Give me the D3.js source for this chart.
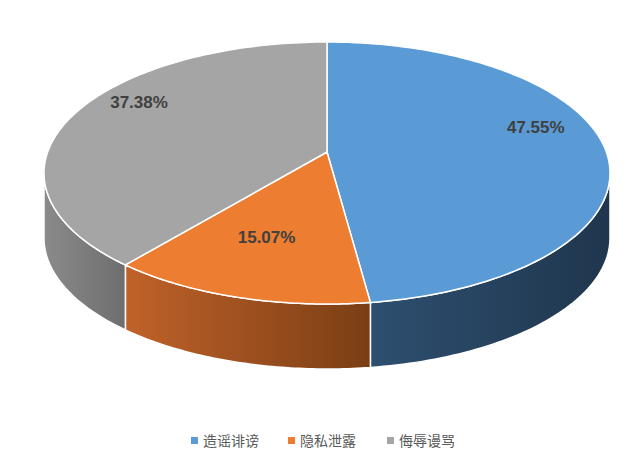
<!DOCTYPE html>
<html><head><meta charset="utf-8">
<script src="https://cdn.jsdelivr.net/npm/d3@7"></script>
<style>body{margin:0;background:#fff}</style>
</head><body>
<svg id="c" width="643" height="455"></svg>
<script>
var categories = ["造谣诽谤", "隐私泄露", "侮辱谩骂"]
var values = [47.55, 15.07, 37.38]
var labels = ["47.55%", "15.07%", "37.38%"]
var topColors = ["#5B9BD5", "#ED7D31", "#A5A5A5"]
var sideColors = [["#2E4F70", "#1F364D"], ["#C0622A", "#7A3E14"], ["#8A8A8A", "#6E6E6E"]]

var cx = 327, cy = 173, rx = 283, ry = 131, depth = 65, vy = 152
var svg = d3.select("#c")
var defs = svg.append("defs")
sideColors.forEach(function (c, i) {
    var g = defs.append("linearGradient").attr("id", "g" + i).attr("x1", 0).attr("x2", 1)
    g.append("stop").attr("offset", 0).attr("stop-color", c[0])
    g.append("stop").attr("offset", 1).attr("stop-color", c[1])
})

var pie = d3.pie().sort(null)(values)
function pt(a, dy) { return [cx + rx * Math.sin(a), cy - ry * Math.cos(a) + (dy || 0)] }

// side walls
pie.forEach(function (d, i) {
    var a0 = Math.max(d.startAngle, Math.PI / 2), a1 = Math.min(d.endAngle, 3 * Math.PI / 2)
    if (a1 <= a0) return
    var n = 60, top = [], bot = []
    for (var k = 0; k <= n; k++) {
        var a = a0 + (a1 - a0) * k / n
        top.push(pt(a)); bot.push(pt(a, depth))
    }
    var p = top.concat(bot.reverse())
    svg.append("path").attr("d", d3.line()(p) + "Z")
        .attr("fill", "url(#g" + i + ")").attr("stroke", "#fff").attr("stroke-width", 1.5)
})

// top faces
pie.forEach(function (d, i) {
    var n = 120, p = [[cx, vy]]
    for (var k = 0; k <= n; k++) p.push(pt(d.startAngle + (d.endAngle - d.startAngle) * k / n))
    svg.append("path").attr("d", d3.line()(p) + "Z")
        .attr("fill", topColors[i]).attr("stroke", "#fff").attr("stroke-width", 1.5)
})

// labels
var labelR = [0.74, 0.68, 0.72]
var labelDy = [-12, 6, -8]
pie.forEach(function (d, i) {
    var a = (d.startAngle + d.endAngle) / 2
    var r = labelR[i]
    svg.append("text").attr("x", cx + rx * r * Math.sin(a)).attr("y", vy - ry * r * Math.cos(a) + labelDy[i])
        .attr("text-anchor", "middle").attr("font-family", "Liberation Sans, Arial, sans-serif")
        .attr("font-weight", "bold").attr("font-size", 17).attr("fill", "#404040").text(labels[i])
})

// legend
var lx = [191, 288, 387]
categories.forEach(function (c, i) {
    svg.append("rect").attr("x", lx[i]).attr("y", 437).attr("width", 7).attr("height", 7).attr("fill", topColors[i])
    svg.append("text").attr("x", lx[i] + 12).attr("y", 446).attr("font-family", "Noto Sans CJK SC")
        .attr("font-size", 14).attr("fill", "#595959").text(c)
})
</script>
</body></html>
